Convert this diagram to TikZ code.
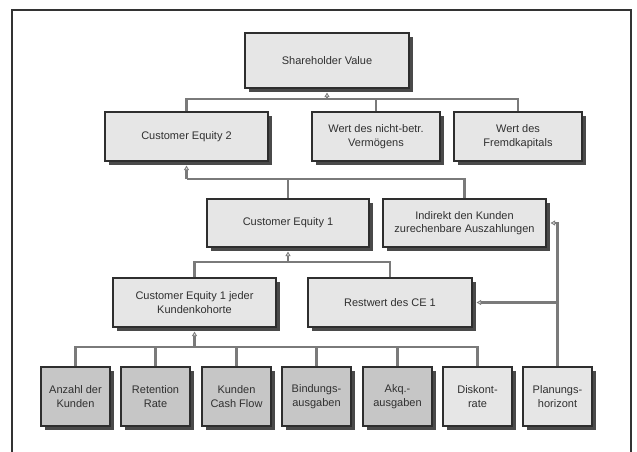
\documentclass[tikz,border=0pt]{standalone}
\usepackage{fontspec}
\setmainfont{Liberation Sans}
\usetikzlibrary{arrows.meta,shadows}
\definecolor{boxline}{HTML}{2E2E2E}
\definecolor{lightfill}{HTML}{E6E6E6}
\definecolor{darkfill}{HTML}{C6C6C6}
\definecolor{shadowcol}{HTML}{4A4A4A}
\definecolor{conncol}{HTML}{7A7A7A}
\definecolor{framecol}{HTML}{333333}
\definecolor{txtcol}{HTML}{303030}
\tikzset{
  box/.style={draw=boxline, line width=1.2pt, fill=lightfill, inner sep=0pt,
    align=center, text=txtcol, font=\fontsize{11}{13.5}\selectfont,
    drop shadow={shadow xshift=4pt, shadow yshift=-4pt, fill=shadowcol, opacity=1}},
  dbox/.style={box, fill=darkfill},
  lvl5/.style={minimum width=69pt, minimum height=59pt},
  conn/.style={draw=conncol, line width=2.2pt},
  arr/.style={-{Triangle[open, length=4.5pt, width=5pt, fill=lightfill, line width=0.8pt]}}
}
\begin{document}
\begin{tikzpicture}[x=1pt, y=-1pt]
\useasboundingbox (0,0) rectangle (637,452);
% frame
\draw[framecol, line width=1.5pt] (12,452) -- (12,10) -- (631,10) -- (631,452);
% level 1
\node[box, minimum width=164pt, minimum height=55pt] (sv) at (327,60.5) {Shareholder Value};
% level 2
\node[box, minimum width=163pt, minimum height=49pt] (ce2) at (186.5,136.5) {Customer Equity 2};
\node[box, minimum width=128pt, minimum height=49pt] (nb) at (376,136.5) {Wert des nicht-betr.\\Vermögens};
\node[box, minimum width=128pt, minimum height=49pt] (fk) at (518,136.5) {Wert des\\Fremdkapitals};
% level 3
\node[box, minimum width=162pt, minimum height=48pt] (ce1) at (288,223) {Customer Equity 1};
\node[box, minimum width=163pt, minimum height=48pt] (ind) at (464.5,223) {Indirekt den Kunden\\zurechenbare Auszahlungen};
% level 4
\node[box, minimum width=163pt, minimum height=49pt] (cej) at (194.5,302.5) {Customer Equity 1 jeder\\Kundenkohorte};
\node[box, minimum width=164pt, minimum height=49pt] (rw) at (390,302.5) {Restwert des CE 1};
% level 5
\node[dbox, lvl5] (anz) at (75.5,396.5) {Anzahl der\\Kunden};
\node[dbox, lvl5] (ret) at (155.5,396.5) {Retention\\Rate};
\node[dbox, lvl5] (kcf) at (236.5,396.5) {Kunden\\Cash Flow};
\node[dbox, lvl5] (bin) at (316.5,396.5) {Bindungs-\\ausgaben};
\node[dbox, lvl5] (akq) at (397.5,396.5) {Akq.-\\ausgaben};
\node[box, lvl5] (dis) at (477.5,396.5) {Diskont-\\rate};
\node[box, lvl5] (pla) at (557.5,396.5) {Planungs-\\horizont};
% bus coordinates
\coordinate (b1) at (327,99);
\coordinate (b2) at (186.5,179);
\coordinate (b3) at (288,262);
\coordinate (b4) at (194.5,347);
% level 1 connectors
\draw[conn] (ce2.north) |- (b1);
\draw[conn] (fk.north) |- (b1);
\draw[conn] (nb.north) -- (nb.north |- b1);
\draw[conn, arr] (b1) -- ([yshift=-4pt]sv.south);
% level 2 connectors
\draw[conn] (ce1.north) |- (b2);
\draw[conn] (ind.north) |- (b2);
\draw[conn, arr] (b2) -- ([yshift=-4pt]ce2.south);
% level 3 connectors
\draw[conn] (cej.north) |- (b3);
\draw[conn] (rw.north) |- (b3);
\draw[conn, arr] (b3) -- ([yshift=-4pt]ce1.south);
% level 4 connectors
\draw[conn] (anz.north) |- (b4);
\draw[conn] (ret.north) -- (ret.north |- b4);
\draw[conn] (kcf.north) -- (kcf.north |- b4);
\draw[conn] (bin.north) -- (bin.north |- b4);
\draw[conn] (akq.north) -- (akq.north |- b4);
\draw[conn] (dis.north) |- (b4);
\draw[conn, arr] (b4) -- ([yshift=-4pt]cej.south);
% Planungshorizont connectors
\coordinate (pj) at (pla.north |- rw.east);
\draw[conn, arr] (pla.north) |- ([xshift=4pt]ind.east);
\draw[conn, arr] (pj) -- ([xshift=4pt]rw.east);
\end{tikzpicture}
\end{document}
